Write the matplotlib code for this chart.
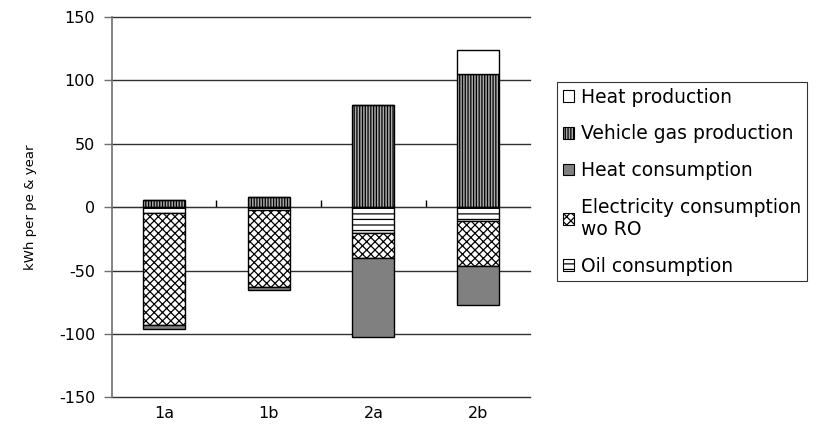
import numpy as np
import matplotlib
matplotlib.use("Agg")
import matplotlib.pyplot as plt
from matplotlib.patches import Patch

plt.rcParams['font.family'] = ['DejaVu Sans']
plt.rcParams['axes.unicode_minus'] = False
plt.rcParams['hatch.linewidth'] = 0.9

# data (kWh per pe & year)
categories = ['1a', '1b', '2a', '2b']
heat_prod = [0, 0, 0, 18.5]
vehicle_gas = [5.3, 7.8, 80.5, 105]
oil_cons = [-4.5, -2, -20.5, -11]
elec_cons = [-88.5, -61, -19.5, -35.5]
heat_cons = [-2.7, -2.6, -62, -30.5]

x = np.arange(len(categories))
w = 0.4

fig = plt.figure(figsize=(8.16, 4.38), dpi=100)
ax = fig.add_axes([0.137, 0.0925, 0.513, 0.8695])

styles = {
    'Heat production': dict(facecolor='white', hatch=None),
    'Vehicle gas production': dict(facecolor='#a8a8a8', hatch='||||||'),
    'Heat consumption': dict(facecolor='#808080', hatch=None),
    'Electricity consumption\nwo RO': dict(facecolor='white', hatch='xxxx'),
    'Oil consumption': dict(facecolor='white', hatch='---'),
}

def draw(vals, bottom, name):
    st = styles[name]
    ax.bar(x, vals, w, bottom=bottom, facecolor=st['facecolor'],
           hatch=st['hatch'], edgecolor='black', linewidth=1.0, zorder=3)

pos_bottom = np.zeros(len(x))
draw(vehicle_gas, pos_bottom, 'Vehicle gas production')
pos_bottom += np.array(vehicle_gas)
draw(heat_prod, pos_bottom, 'Heat production')

neg_bottom = np.zeros(len(x))
for vals, name in [(oil_cons, 'Oil consumption'),
                   (elec_cons, 'Electricity consumption\nwo RO'),
                   (heat_cons, 'Heat consumption')]:
    draw(vals, neg_bottom, name)
    neg_bottom += np.array(vals)

ax.set_xlim(-0.5, len(x) - 0.5)
ax.set_ylim(-150, 150)
ax.set_yticks(np.arange(-150, 151, 50))
ax.yaxis.grid(True, color='#303030', linewidth=1.0, zorder=0)
for gl in ax.get_ygridlines():
    gl.set_clip_on(False)
ax.set_axisbelow(True)
ax.tick_params(axis='y', direction='out', length=6, width=1, color='#707070',
               labelsize=11.5, pad=6)
ax.set_xticks(x)
ax.set_xticklabels(categories)
ax.tick_params(axis='x', length=0, labelsize=11.5, pad=6)
for s in ['top', 'right', 'bottom']:
    ax.spines[s].set_visible(False)
ax.spines['left'].set_color('#707070')
ax.spines['left'].set_linewidth(1.2)
ax.set_ylabel('kWh per pe & year', fontsize=9.5, labelpad=16)

# category axis at zero with ticks between categories
sec = ax.secondary_xaxis(0.5)
sec.set_xticks(x[:-1] + 0.5)
sec.set_xticklabels([''] * (len(x) - 1))
sec.tick_params(direction='out', length=5, width=1, color='black')
sec.spines['bottom'].set_color('black')
sec.spines['bottom'].set_linewidth(1.0)

order = ['Heat production', 'Vehicle gas production', 'Heat consumption',
         'Electricity consumption\nwo RO', 'Oil consumption']
handles = [Patch(facecolor=styles[n]['facecolor'], hatch=styles[n]['hatch'],
                 edgecolor='black', linewidth=0.8, label=n) for n in order]
leg = fig.legend(handles=handles, loc='upper left', bbox_to_anchor=(0.683, 0.813),
                 bbox_transform=fig.transFigure, fontsize=13.5, frameon=True,
                 fancybox=False, handlelength=0.6, handleheight=0.6,
                 handletextpad=0.35, labelspacing=0.95, borderpad=0.3,
                 borderaxespad=0)
leg.get_frame().set_edgecolor('black')
leg.get_frame().set_linewidth(0.8)

fig.savefig('out.png', dpi=100)
